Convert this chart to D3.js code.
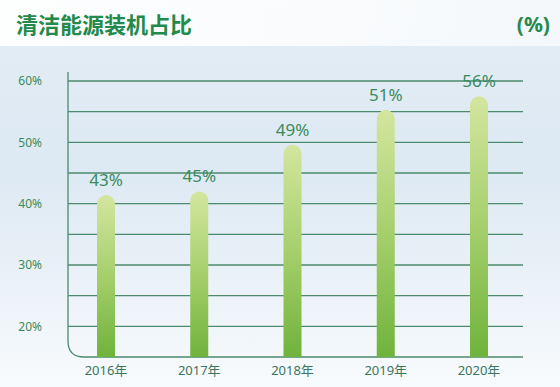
<!DOCTYPE html>
<html>
<head>
<meta charset="utf-8">
<script src="https://cdn.jsdelivr.net/npm/d3@7"></script>
<style>
  body { margin: 0; padding: 0; background: #fff; }
  #container { width: 560px; height: 387px; overflow: hidden; }
  text { font-family: "Noto Sans", "Noto Sans CJK SC", sans-serif; }
</style>
</head>
<body>
<div id="container"></div>
<script>
// data
var years = ["2016年", "2017年", "2018年", "2019年", "2020年"];
var labels = [43, 45, 49, 51, 56];           // printed percentages
var barLevels = [41.4, 42, 49.6, 55.3, 57.5]; // bar heights as read against the axis
var gridTicks = [20, 25, 30, 35, 40, 45, 50, 55, 60];
var tickLabels = [20, 30, 40, 50, 60];

var W = 560, H = 387;

var svg = d3.select("#container")
  .append("svg")
    .attr("width", W)
    .attr("height", H);

var defs = svg.append("defs");

// sky background
var sky = defs.append("linearGradient")
    .attr("id", "sky")
    .attr("x1", 0).attr("y1", 0).attr("x2", 0).attr("y2", 1);
sky.append("stop").attr("offset", "0%").attr("stop-color", "#e3edf5");
sky.append("stop").attr("offset", "45%").attr("stop-color", "#dde9f3");
sky.append("stop").attr("offset", "80%").attr("stop-color", "#eef4f9");
sky.append("stop").attr("offset", "100%").attr("stop-color", "#f8fbfd");

var band = defs.append("linearGradient")
    .attr("id", "band")
    .attr("x1", 0).attr("y1", 0).attr("x2", 1).attr("y2", 0);
band.append("stop").attr("offset", "0%").attr("stop-color", "#fff").attr("stop-opacity", 0.95);
band.append("stop").attr("offset", "60%").attr("stop-color", "#fff").attr("stop-opacity", 0.8);
band.append("stop").attr("offset", "100%").attr("stop-color", "#fff").attr("stop-opacity", 0.6);

var barGrad = defs.append("linearGradient")
    .attr("id", "bar")
    .attr("x1", 0).attr("y1", 0).attr("x2", 0).attr("y2", 1);
barGrad.append("stop").attr("offset", "0%").attr("stop-color", "#d3e69f");
barGrad.append("stop").attr("offset", "50%").attr("stop-color", "#a6cf6c");
barGrad.append("stop").attr("offset", "100%").attr("stop-color", "#6fb33c");

svg.append("rect")
    .attr("width", W).attr("height", H)
    .attr("fill", "url(#sky)");

svg.append("rect")
    .attr("x", -10).attr("y", -10)
    .attr("width", W + 20).attr("height", 56)
    .attr("rx", 10)
    .attr("fill", "url(#band)");

// title
svg.append("text")
    .attr("x", 16).attr("y", 33)
    .attr("font-size", 22)
    .attr("font-weight", "bold")
    .attr("fill", "#248a4c")
    .style("font-family", "'Noto Sans CJK SC', sans-serif")
    .text("清洁能源装机占比");

svg.append("text")
    .attr("x", 550).attr("y", 32)
    .attr("text-anchor", "end")
    .attr("font-size", 21)
    .attr("font-weight", "bold")
    .attr("fill", "#248a4c")
    .text("(%)");

// scales
var x = d3.scalePoint()
    .domain(years)
    .range([106, 479]);

var y = d3.scaleLinear()
    .domain([15, 60])
    .range([357, 81]);

var left = 68, right = 523, r = 16;
var lineColor = "#4c8a6c";

// grid lines
svg.append("g")
  .selectAll("line")
  .data(gridTicks)
  .enter()
  .append("line")
    .attr("x1", left)
    .attr("x2", right)
    .attr("y1", function(d) { return y(d); })
    .attr("y2", function(d) { return y(d); })
    .attr("stroke", lineColor)
    .attr("stroke-width", 1.3);

// axis with rounded corner
var base = y(15);
svg.append("path")
    .attr("d", "M" + left + "," + (y(60) - 9) +
               "V" + (base - r) +
               "Q" + left + "," + base + " " + (left + r) + "," + base +
               "H" + right)
    .attr("fill", "none")
    .attr("stroke", lineColor)
    .attr("stroke-width", 1.3);

// y tick labels
svg.append("g")
  .selectAll("text")
  .data(tickLabels)
  .enter()
  .append("text")
    .attr("x", 42)
    .attr("y", function(d) { return y(d); })
    .attr("dy", "0.35em")
    .attr("text-anchor", "end")
    .attr("font-size", 12)
    .attr("fill", "#3b8a5c")
    .text(function(d) { return d + "%"; });

// bars
var bw = 18;
svg.append("g")
  .selectAll("path")
  .data(barLevels)
  .enter()
  .append("path")
    .attr("d", function(d, i) {
      var cx = x(years[i]), top = y(d), rr = bw / 2;
      return "M" + (cx - rr) + "," + base +
             "V" + (top + rr) +
             "A" + rr + "," + rr + " 0 0 1 " + (cx + rr) + "," + (top + rr) +
             "V" + base + "Z";
    })
    .attr("fill", "url(#bar)");

// value labels
svg.append("g")
  .selectAll("text")
  .data(labels)
  .enter()
  .append("text")
    .attr("x", function(d, i) { return x(years[i]); })
    .attr("y", function(d, i) { return y(barLevels[i]) - 9; })
    .attr("text-anchor", "middle")
    .attr("font-size", 17)
    .attr("fill", "#3a8a5e")
    .text(function(d) { return d + "%"; });

// year labels
svg.append("g")
  .selectAll("text")
  .data(years)
  .enter()
  .append("text")
    .attr("x", function(d) { return x(d); })
    .attr("y", 375)
    .attr("text-anchor", "middle")
    .attr("font-size", 13)
    .attr("fill", "#3c7560")
    .text(function(d) { return d; });
</script>
</body>
</html>
